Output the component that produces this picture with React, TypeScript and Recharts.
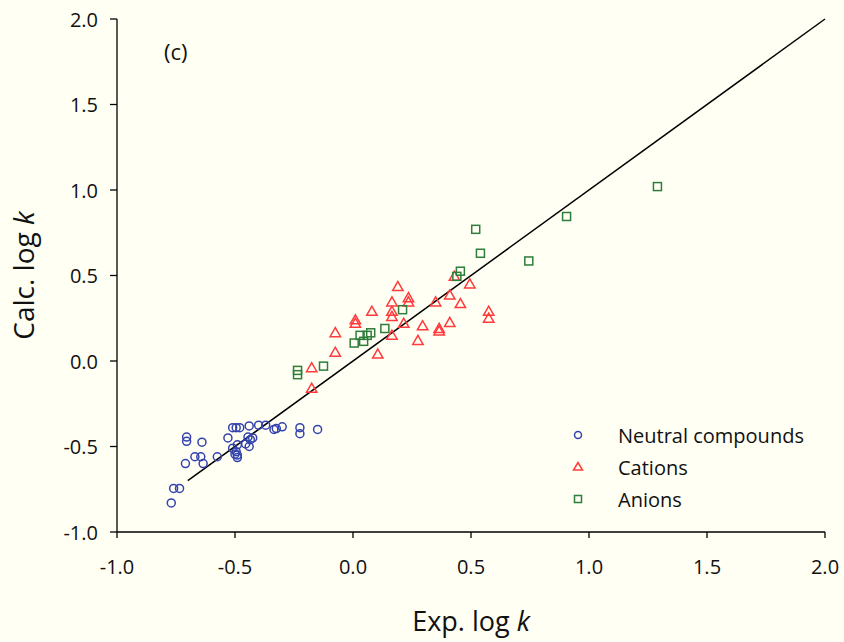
import { ScatterChart, Scatter, XAxis, YAxis, ReferenceLine, Legend, Label } from 'recharts';

const neutralX = [-0.77, -0.76, -0.735, -0.71, -0.705, -0.705, -0.67, -0.645, -0.64, -0.635, -0.575, -0.53, -0.51, -0.495, -0.48, -0.44, -0.4, -0.37, -0.335, -0.325, -0.3, -0.225, -0.225, -0.15, -0.51, -0.49, -0.495, -0.49, -0.49, -0.455, -0.445, -0.435, -0.425, -0.44, -0.5];
const neutralY = [-0.83, -0.745, -0.745, -0.6, -0.445, -0.47, -0.56, -0.56, -0.475, -0.6, -0.56, -0.45, -0.39, -0.39, -0.39, -0.38, -0.375, -0.375, -0.4, -0.395, -0.385, -0.39, -0.425, -0.4, -0.51, -0.49, -0.53, -0.55, -0.565, -0.485, -0.445, -0.46, -0.45, -0.5, -0.545];

const cationX = [-0.175, -0.175, -0.075, -0.075, 0.01, 0.01, 0.08, 0.105, 0.165, 0.165, 0.165, 0.165, 0.19, 0.215, 0.235, 0.235, 0.275, 0.295, 0.35, 0.365, 0.365, 0.41, 0.41, 0.455, 0.495, 0.43, 0.575, 0.575];
const cationY = [-0.16, -0.04, 0.05, 0.165, 0.24, 0.22, 0.29, 0.04, 0.345, 0.29, 0.26, 0.15, 0.435, 0.22, 0.37, 0.345, 0.12, 0.205, 0.345, 0.19, 0.175, 0.225, 0.385, 0.335, 0.45, 0.495, 0.29, 0.25];

const anionX = [-0.235, -0.235, -0.125, 0.005, 0.03, 0.045, 0.06, 0.075, 0.135, 0.21, 0.44, 0.455, 0.52, 0.54, 0.745, 0.905, 1.29];
const anionY = [-0.055, -0.08, -0.03, 0.105, 0.15, 0.115, 0.15, 0.165, 0.19, 0.3, 0.495, 0.525, 0.77, 0.63, 0.585, 0.845, 1.02];

const ticks = [-1, -0.5, 0, 0.5, 1, 1.5, 2];
const seriesNames = ['Neutral compounds', 'Cations', 'Anions'];
const seriesColors = ['#3443AC', '#FF3B3B', '#2F7D3A'];

const zip = (xs: number[], ys: number[]) => xs.map((x, i) => ({ x, y: ys[i] }));

const font = '"Open Sans", sans-serif';
const bg = '#FFFFF4';

const Circle = (p: any) => <circle cx={p.cx} cy={p.cy} r={4} fill="none" stroke={seriesColors[0]} strokeWidth={1.5} />;
const Tri = (p: any) => {
  const s = 5.2;
  return (
    <polygon
      points={`${p.cx},${p.cy - s} ${p.cx - s},${p.cy + s * 0.75} ${p.cx + s},${p.cy + s * 0.75}`}
      fill="none"
      stroke={seriesColors[1]}
      strokeWidth={1.5}
    />
  );
};
const Sq = (p: any) => <rect x={p.cx - 4} y={p.cy - 4} width={8} height={8} fill="none" stroke={seriesColors[2]} strokeWidth={1.5} />;

const legendIcon = (i: number) => {
  if (i === 0) return <circle cx={7} cy={7} r={3.5} fill="none" stroke={seriesColors[0]} strokeWidth={1.5} />;
  if (i === 1) return <polygon points="7,2.5 2.5,10 11.5,10" fill="none" stroke={seriesColors[1]} strokeWidth={1.5} />;
  return <rect x={3.5} y={3.5} width={7} height={7} fill="none" stroke={seriesColors[2]} strokeWidth={1.5} />;
};

const renderLegend = () => (
  <div style={{ fontFamily: font, fontSize: 20, color: '#111' }}>
    {seriesNames.map((n, i) => (
      <div key={n} style={{ display: 'flex', alignItems: 'center', height: 32 }}>
        <svg width={14} height={14} style={{ marginRight: 33 }}>{legendIcon(i)}</svg>
        <span>{n}</span>
      </div>
    ))}
  </div>
);

const XTick = (p: any) => (
  <text x={p.x} y={p.y + 22} textAnchor="middle" dominantBaseline="central" fontFamily={font} fontSize={20} fill="#111">
    {p.payload.value.toFixed(1)}
  </text>
);

const YTick = (p: any) => (
  <text x={p.x} y={p.y} textAnchor="end" dominantBaseline="central" fontFamily={font} fontSize={20} fill="#111">
    {p.payload.value.toFixed(1)}
  </text>
);

const yTitle = (props: any) => {
  const vb = props.viewBox;
  const cx = 23;
  const cy = vb.y + vb.height / 2;
  return (
    <text x={cx} y={cy} transform={`rotate(-90 ${cx} ${cy})`} textAnchor="middle" dominantBaseline="central" fontFamily={font} fontSize={28} fill="#111">
      Calc. log <tspan fontStyle="italic">k</tspan>
    </text>
  );
};

const xTitle = (props: any) => {
  const vb = props.viewBox;
  return (
    <text x={vb.x + vb.width / 2} y={620} textAnchor="middle" dominantBaseline="central" fontFamily={font} fontSize={27} fill="#111">
      Exp. log <tspan fontStyle="italic">k</tspan>
    </text>
  );
};

export default function App() {
  return (
    <div style={{ position: 'fixed', left: 0, top: 0, width: 844, height: 642, background: bg }}>
      <ScatterChart width={844} height={642} margin={{ top: 19, right: 19, bottom: 70, left: 0 }}>
        <XAxis
          type="number"
          dataKey="x"
          domain={[-1, 2]}
          ticks={ticks}
          tick={<XTick />}
          tickSize={6}
          tickMargin={6}
          height={40}
          stroke="#000"
          strokeWidth={1.3}
          allowDataOverflow
        >
          <Label content={xTitle} />
        </XAxis>
        <YAxis
          type="number"
          dataKey="y"
          domain={[-1, 2]}
          ticks={ticks}
          tick={<YTick />}
          tickSize={7}
          tickMargin={12}
          width={117}
          stroke="#000"
          strokeWidth={1.3}
          allowDataOverflow
        >
          <Label content={yTitle} />
        </YAxis>
        <ReferenceLine segment={[{ x: -0.7, y: -0.7 }, { x: 2, y: 2 }]} stroke="#000" strokeWidth={1.5} />
        <Scatter name={seriesNames[0]} data={zip(neutralX, neutralY)} shape={Circle} isAnimationActive={false} />
        <Scatter name={seriesNames[1]} data={zip(cationX, cationY)} shape={Tri} isAnimationActive={false} />
        <Scatter name={seriesNames[2]} data={zip(anionX, anionY)} shape={Sq} isAnimationActive={false} />
        <Legend
          layout="vertical"
          align="center"
          verticalAlign="middle"
          content={renderLegend}
          wrapperStyle={{ position: 'absolute', left: 571, top: 419, width: 260, height: 100 }}
        />
      </ScatterChart>
      <div style={{ position: 'absolute', left: 164, top: 36, fontFamily: font, fontSize: 22, color: '#111' }}>(c)</div>
    </div>
  );
}
